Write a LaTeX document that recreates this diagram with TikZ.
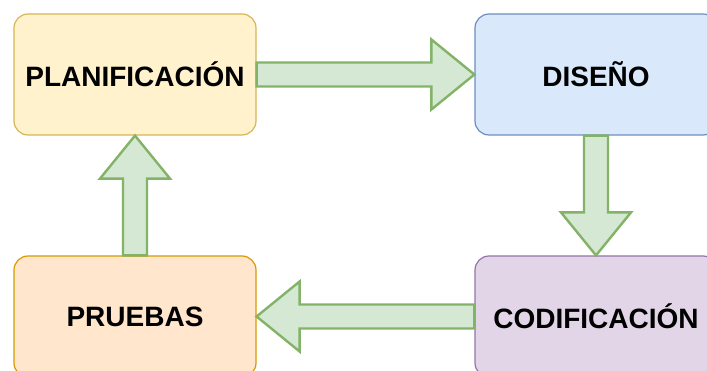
\documentclass[tikz,border=0pt]{standalone}
\usepackage{fontspec}
\setmainfont{Liberation Sans}
\usetikzlibrary{calc}

\definecolor{planfill}{HTML}{FFF2CC}
\definecolor{planline}{HTML}{D6B656}
\definecolor{disfill}{HTML}{DAE8FC}
\definecolor{disline}{HTML}{6C8EBF}
\definecolor{codfill}{HTML}{E1D5E7}
\definecolor{codline}{HTML}{9673A6}
\definecolor{prufill}{HTML}{FFE6CC}
\definecolor{pruline}{HTML}{D79B00}
\definecolor{flowfill}{HTML}{D5E8D4}
\definecolor{flowline}{HTML}{82B366}

\tikzset{
    stage/.style={draw, rounded corners=14pt, line width=1.2pt,
        minimum width=242pt, minimum height=121pt,
        font=\fontsize{28}{32}\selectfont\bfseries},
    flow/.style={draw=flowline, fill=flowfill, line width=2.4pt, line join=miter}
}

\newcommand{\flowarrow}[2]{%
    \coordinate (hb) at ($(#2)!43pt!(#1)$);
    \draw[flow] ($(#1)!12pt!90:(#2)$) -- ($(hb)!12pt!90:(#2)$)
        -- ($(hb)!35pt!90:(#2)$) -- (#2) -- ($(hb)!35pt!-90:(#2)$)
        -- ($(hb)!12pt!-90:(#2)$) -- ($(#1)!12pt!-90:(#2)$) -- cycle;}

\begin{document}
\begin{tikzpicture}[x=1pt, y=-1pt]
        \useasboundingbox (0,0) rectangle (707,371);
        \clip (0,0) rectangle (707,371);
        \node[stage, fill=planfill, draw=planline] (plan) at (135,74.5) {PLANIFICACIÓN};
        \node[stage, fill=disfill, draw=disline] (dis) at (596,74.5) {DISEÑO};
        \node[stage, fill=codfill, draw=codline] (cod) at (596,316.5) {CODIFICACIÓN};
        \node[stage, fill=prufill, draw=pruline] (pru) at (135,316.5) {PRUEBAS};
        \flowarrow{plan.east}{dis.west}
        \flowarrow{dis.south}{cod.north}
        \flowarrow{cod.west}{pru.east}
        \flowarrow{pru.north}{plan.south}
    \end{tikzpicture}
\end{document}
